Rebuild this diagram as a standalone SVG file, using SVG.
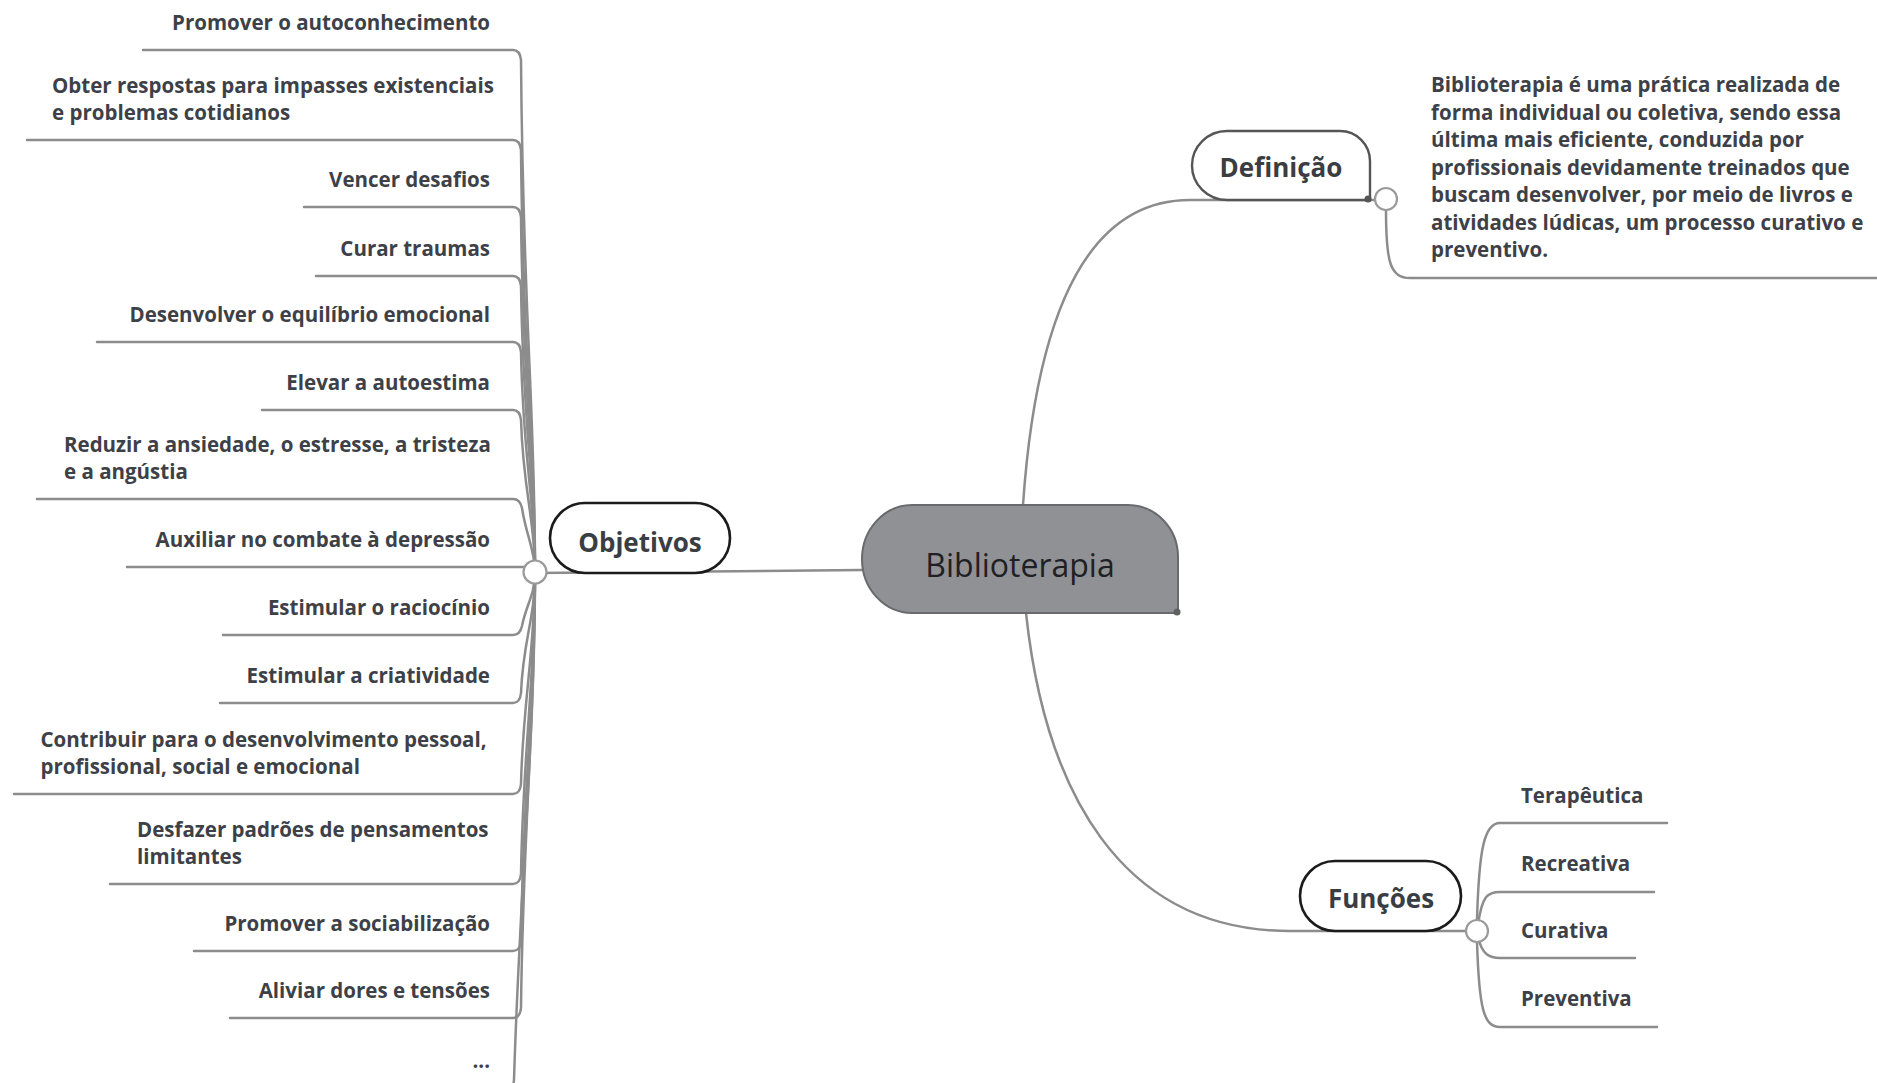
<svg xmlns="http://www.w3.org/2000/svg" width="1877" height="1083" viewBox="0 0 1877 1083">
<style>
.lbl{font-family:"Open Sans","Noto Sans",sans-serif;font-weight:700;font-size:20.5px;fill:#3d4147}
.r{text-anchor:end}
.topic{font-family:"Open Sans","Noto Sans",sans-serif;font-weight:700;font-size:26px;fill:#3a3d42;text-anchor:middle}
.ln{fill:none;stroke:#8c8c8c;stroke-width:2.5;stroke-linecap:round}
.knob{fill:#fff;stroke:#9a9a9a;stroke-width:2.2}
.box{fill:#fff;stroke:#1b1b1b;stroke-width:2.6}
</style>
<rect width="1877" height="1083" fill="#fff"/>
<g id="connectors">
<path class="ln" d="M143 50 H513 Q520 50 521 60 C523 320 535 400 535 572"/>
<path class="ln" d="M27 140 H513 Q520 140 521 150 C523 370 535 430 535 572"/>
<path class="ln" d="M304 207 H513 Q520 207 521 217 C523 400 535 460 535 572"/>
<path class="ln" d="M316 276 H513 Q520 276 521 286 C523 430 535 480 535 572"/>
<path class="ln" d="M97 342 H513 Q520 342 521 352 C523 460 535 500 535 572"/>
<path class="ln" d="M262 410 H513 Q520 410 521 420 C523 490 535 520 535 572"/>
<path class="ln" d="M37 499 H513 Q520 499 522 508 C526 535 535 550 535 572"/>
<path class="ln" d="M127 567 H535"/>
<path class="ln" d="M223 635 H513 Q520 635 522 626 C526 605 535 595 535 572"/>
<path class="ln" d="M220 703 H513 Q520 703 521 693 C523 640 535 620 535 572"/>
<path class="ln" d="M14 794 H513 Q520 794 521 784 C523 700 535 650 535 572"/>
<path class="ln" d="M110 884 H513 Q520 884 521 874 C523 750 535 680 535 572"/>
<path class="ln" d="M194 951 H513 Q520 951 521 941 C523 790 535 700 535 572"/>
<path class="ln" d="M230 1018 H513 Q520 1018 521 1008 C523 830 535 720 535 572"/>
<path class="ln" d="M400 1090 H506 Q513 1090 514 1080 C520 880 535 740 535 572"/>
<path class="ln" d="M862 570 L535 573"/>
<path class="ln" d="M1023 505 C1035 330 1080 200 1190 200 H1375"/>
<path class="ln" d="M1386 210 C1386 262 1390 278 1410 278 H1877"/>
<path class="ln" d="M1026 613 C1045 790 1120 931 1290 931 H1466"/>
<path class="ln" d="M1477 920 C1479 850 1484 823 1500 823 H1667"/>
<path class="ln" d="M1478 925 C1482 895 1488 892 1500 892 H1654"/>
<path class="ln" d="M1478 937 C1482 955 1490 958 1500 958 H1635"/>
<path class="ln" d="M1477 941 C1479 1010 1484 1027 1500 1027 H1657"/>
</g>
<g id="objetivos-items">
<g id="obj1"><text class="lbl r" x="490" y="30">Promover o autoconhecimento</text></g>
<g id="obj2"><text class="lbl" x="52" y="92.5">Obter respostas para impasses existenciais</text><text class="lbl" x="52" y="120">e problemas cotidianos</text></g>
<g id="obj3"><text class="lbl r" x="490" y="187">Vencer desafios</text></g>
<g id="obj4"><text class="lbl r" x="490" y="256">Curar traumas</text></g>
<g id="obj5"><text class="lbl r" x="490" y="322">Desenvolver o equilíbrio emocional</text></g>
<g id="obj6"><text class="lbl r" x="490" y="390">Elevar a autoestima</text></g>
<g id="obj7"><text class="lbl" x="64" y="451.5">Reduzir a ansiedade, o estresse, a tristeza</text><text class="lbl" x="64" y="479">e a angústia</text></g>
<g id="obj8"><text class="lbl r" x="490" y="547">Auxiliar no combate à depressão</text></g>
<g id="obj9"><text class="lbl r" x="490" y="615">Estimular o raciocínio</text></g>
<g id="obj10"><text class="lbl r" x="490" y="683">Estimular a criatividade</text></g>
<g id="obj11"><text class="lbl" x="40.5" y="746.5">Contribuir para o desenvolvimento pessoal,</text><text class="lbl" x="40.5" y="774">profissional, social e emocional</text></g>
<g id="obj12"><text class="lbl" x="137" y="836.5">Desfazer padrões de pensamentos</text><text class="lbl" x="137" y="864">limitantes</text></g>
<g id="obj13"><text class="lbl r" x="490" y="931">Promover a sociabilização</text></g>
<g id="obj14"><text class="lbl r" x="490" y="998">Aliviar dores e tensões</text></g>
<g id="obj15"><text class="lbl r" x="490" y="1068">...</text></g>
</g>
<g id="objetivos">
<rect class="box" x="550" y="503" width="180" height="70" rx="35"/>
<text class="topic" x="640" y="552">Objetivos</text>
<circle class="knob" cx="535" cy="572" r="11.5"/>
</g>
<g id="biblioterapia">
<path d="M912 505 H1128 A50 52 0 0 1 1178 557 V613 H912 A50 54 0 0 1 912 505 Z" fill="#8f9194" stroke="#686a6d" stroke-width="2"/>
<circle cx="1177" cy="612" r="3.5" fill="#5e6064"/>
<text x="1020" y="577" font-family="'Open Sans','Noto Sans',sans-serif" font-size="32" fill="#1f2023" text-anchor="middle">Biblioterapia</text>
</g>
<g id="definicao">
<path d="M1227 131 H1340 A30 30 0 0 1 1370 161 V200 H1227 A35 34.5 0 0 1 1227 131 Z" fill="#fff" stroke="#555" stroke-width="2.4"/>
<circle cx="1368" cy="199" r="3.5" fill="#555"/>
<text class="topic" x="1281" y="177">Definição</text>
<circle class="knob" cx="1386" cy="199" r="11"/>
</g>
<g id="definicao-texto">
<text class="lbl" x="1431" y="92">Biblioterapia é uma prática realizada de</text>
<text class="lbl" x="1431" y="119.5">forma individual ou coletiva, sendo essa</text>
<text class="lbl" x="1431" y="147">última mais eficiente, conduzida por</text>
<text class="lbl" x="1431" y="174.5">profissionais devidamente treinados que</text>
<text class="lbl" x="1431" y="202">buscam desenvolver, por meio de livros e</text>
<text class="lbl" x="1431" y="229.5">atividades lúdicas, um processo curativo e</text>
<text class="lbl" x="1431" y="257">preventivo.</text>
</g>
<g id="funcoes">
<rect class="box" x="1300" y="861" width="161" height="70" rx="35"/>
<text class="topic" x="1381" y="908">Funções</text>
<circle class="knob" cx="1477" cy="931" r="11"/>
</g>
<g id="funcoes-items">
<g id="f1"><text class="lbl" x="1521" y="803">Terapêutica</text></g>
<g id="f2"><text class="lbl" x="1521" y="871">Recreativa</text></g>
<g id="f3"><text class="lbl" x="1521" y="938">Curativa</text></g>
<g id="f4"><text class="lbl" x="1521" y="1006">Preventiva</text></g>
</g>
</svg>
